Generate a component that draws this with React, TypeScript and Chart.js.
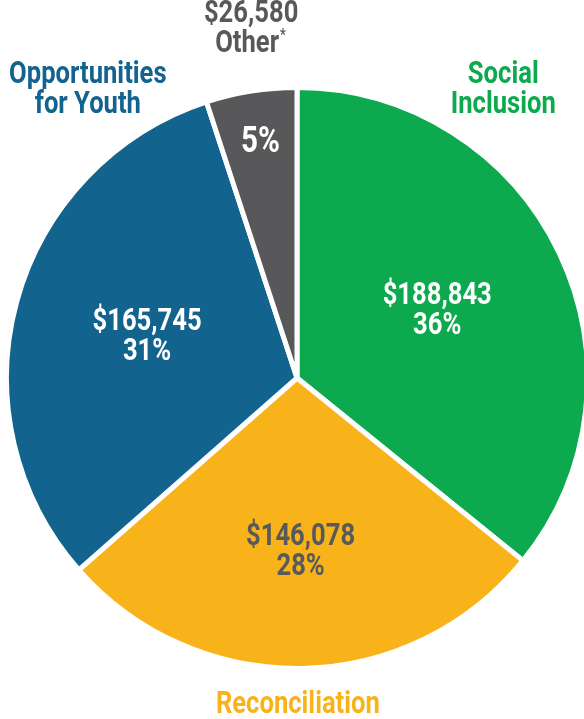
import React, { useEffect, useRef } from "react";
import { Chart, registerables } from "chart.js";

Chart.register(...registerables);

const categories = ["Social Inclusion", "Reconciliation", "Opportunities for Youth", "Other*"];
const amounts = [188843, 146078, 165745, 26580];
const amountLabels = ["$188,843", "$146,078", "$165,745", "$26,580"];
const percentLabels = ["36%", "28%", "31%", "5%"];
const colors = ["#0CA94E", "#F9B31A", "#13638F", "#58585A"];
const innerTextColors = ["#FFFFFF", "#58595B", "#FFFFFF", "#FFFFFF"];
const innerRadiusFactor = [0.535, 0.6, 0.535, 0.82];

const FONT = 'Roboto, "Liberation Sans", sans-serif';
const SIZE = 32;
const SCALE_X = 0.8;
const LINE = 30;

function drawText(ctx: any, t: string, x: number, y: number) {
  ctx.save();
  ctx.translate(x, y);
  ctx.scale(SCALE_X, 1);
  ctx.fillText(t, 0, 0);
  ctx.restore();
}

const labelPlugin = {
  id: "pieLabels",
  afterDraw(chart: any) {
    const ctx = chart.ctx;
    const meta = chart.getDatasetMeta(0);
    ctx.save();
    ctx.font = `bold ${SIZE}px ${FONT}`;
    ctx.textAlign = "center";
    ctx.textBaseline = "middle";
    let cx = 0, cy = 0, R = 0;
    meta.data.forEach((arc: any, i: number) => {
      const p = arc.getProps(["x", "y", "startAngle", "endAngle", "outerRadius"], true);
      cx = p.x; cy = p.y; R = p.outerRadius;
      const mid = (p.startAngle + p.endAngle) / 2;
      const r = p.outerRadius * innerRadiusFactor[i];
      const x = p.x + Math.cos(mid) * r;
      const y = p.y + Math.sin(mid) * r;
      ctx.fillStyle = innerTextColors[i];
      if (i === 3) {
        ctx.save();
        ctx.font = `bold 37px ${FONT}`;
        drawText(ctx, percentLabels[i], x + 1, y);
        ctx.restore();
      } else {
        drawText(ctx, amountLabels[i], x, y - LINE / 2);
        drawText(ctx, percentLabels[i], x, y + LINE / 2);
      }
    });
    // outside labels
    const outside = [
      { lines: ["Social", "Inclusion"], color: colors[0], dx: 0.71, dy: -0.99 },
      { lines: ["Reconciliation"], color: colors[1], dx: 0.003, dy: 1.125 },
      { lines: ["Opportunities", "for Youth"], color: colors[2], dx: -0.72, dy: -0.99 },
      { lines: [amountLabels[3], "Other"], color: colors[3], dx: -0.158, dy: -1.2 },
    ];
    outside.forEach((o, j) => {
      const x = cx + o.dx * R;
      const y = cy + o.dy * R;
      ctx.fillStyle = o.color;
      const n = o.lines.length;
      o.lines.forEach((t, k) => {
        const ty = y + (k - (n - 1) / 2) * LINE;
        if (j === 3 && k === 1) {
          const w = ctx.measureText(t).width * SCALE_X;
          drawText(ctx, t, x - 4, ty);
          ctx.save();
          ctx.font = `bold ${Math.round(SIZE * 0.5)}px ${FONT}`;
          ctx.textAlign = "left";
          drawText(ctx, "*", x - 4 + w / 2 + 1, ty - 8);
          ctx.restore();
        } else {
          drawText(ctx, t, x, ty);
        }
      });
    });
    ctx.restore();
  },
};

export default function App() {
  const ref = useRef<HTMLCanvasElement>(null);
  useEffect(() => {
    if (!ref.current) return;
    const chart = new Chart(ref.current, {
      type: "pie",
      data: {
        labels: categories,
        datasets: [
          {
            data: amounts,
            backgroundColor: colors,
            borderColor: "#FFFFFF",
            borderWidth: 5,
          },
        ],
      },
      options: {
        responsive: false,
        animation: false,
        layout: { padding: { left: 4, right: 14, top: 85, bottom: 48 } },
        plugins: { legend: { display: false }, tooltip: { enabled: false } },
      },
      plugins: [labelPlugin],
    });
    return () => chart.destroy();
  }, []);
  return (
    <div style={{ position: "fixed", left: 0, top: 0, width: 584, height: 719, overflow: "hidden", background: "#fff" }}>
      <canvas ref={ref} width={604} height={719} style={{ width: 604, height: 719, display: "block" }} />
    </div>
  );
}
